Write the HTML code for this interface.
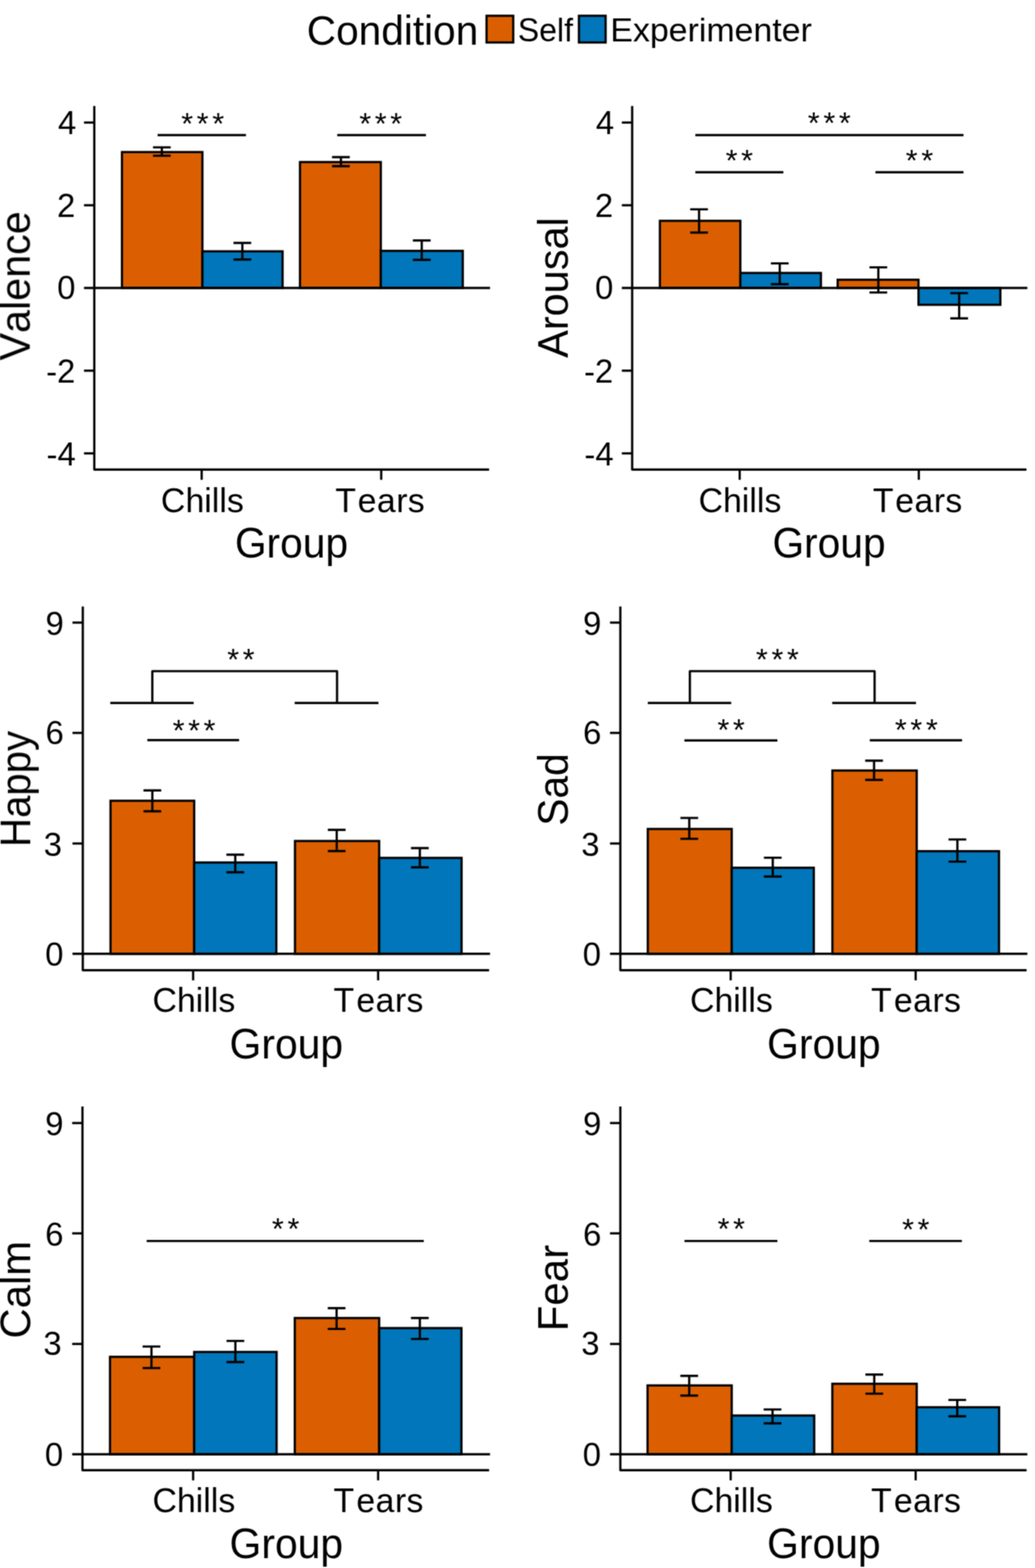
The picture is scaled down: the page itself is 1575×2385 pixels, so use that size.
<!DOCTYPE html>
<html lang="en">
<head>
<meta charset="utf-8">
<title>Emotion ratings by group and condition</title>
<style>
html,body{margin:0;padding:0;background:#fff;}
body{width:1575px;height:2385px;overflow:hidden;}
svg{display:block;}
svg text{font-family:"Liberation Sans", sans-serif;fill:#000;font-kerning:none;white-space:pre;}
svg line,svg path{stroke:#000;stroke-width:3.4;fill:none;stroke-linejoin:round;}
svg rect{stroke:#000;stroke-width:3.4;}
</style>
</head>
<body>
<svg width="1575" height="2385" viewBox="0 0 1575 2385">
<defs>
<filter id="soften" x="0" y="0" width="1575" height="2385" filterUnits="userSpaceOnUse" color-interpolation-filters="sRGB">
<feConvolveMatrix order="3" kernelMatrix="1 2 1 2 4 2 1 2 1" divisor="16" edgeMode="duplicate" preserveAlpha="true"/>
</filter>
</defs>
<g filter="url(#soften)">
<rect x="0" y="0" width="1575" height="2385" style="fill:#fff;stroke:none"/>
<text x="466.86" y="67.8" font-size="62.5" textLength="260.9" lengthAdjust="spacingAndGlyphs">Condition</text>
<rect x="740.4" y="24" width="40.6" height="40.6" fill="#DB5F00"/>
<text x="788.09" y="63.2" font-size="50.25" textLength="83.84" lengthAdjust="spacingAndGlyphs">Self</text>
<rect x="881" y="24" width="40.6" height="40.6" fill="#0176BA"/>
<text x="928.77" y="63.2" font-size="50.25" textLength="306.58" lengthAdjust="spacingAndGlyphs">Experimenter</text>
<g id="panel-valence">
<g class="bars">
<rect x="185.6" y="231.3" width="122.4" height="206.7" fill="#DB5F00"/>
<rect x="308" y="382.3" width="122" height="55.7" fill="#0176BA"/>
<rect x="456.5" y="246.5" width="123" height="191.5" fill="#DB5F00"/>
<rect x="579.5" y="381.6" width="124.7" height="56.4" fill="#0176BA"/>
</g>
<g class="ln">
<line x1="127.8" y1="438" x2="745.7" y2="438"/>
<path d="M232.8 224.1H259.8M232.8 236.9H259.8M246.3 224.1V236.9"/>
<path d="M355.3 369.5H382.3M355.3 394.8H382.3M368.8 369.5V394.8"/>
<path d="M505.3 239H532.3M505.3 252.7H532.3M518.8 239V252.7"/>
<path d="M628.3 365.8H655.3M628.3 395.3H655.3M641.8 365.8V395.3"/>
<path d="M143.5 161.3V714.3H744.3"/>
<line x1="127.8" y1="186.4" x2="143.5" y2="186.4"/>
<line x1="127.8" y1="312.2" x2="143.5" y2="312.2"/>
<line x1="127.8" y1="563.8" x2="143.5" y2="563.8"/>
<line x1="127.8" y1="689.6" x2="143.5" y2="689.6"/>
<line x1="306.9" y1="714.3" x2="306.9" y2="729.8"/>
<line x1="580.1" y1="714.3" x2="580.1" y2="729.8"/>
<line x1="239.8" y1="205.5" x2="374.3" y2="205.5"/>
<line x1="513.2" y1="205.5" x2="648.2" y2="205.5"/>
</g>
<g class="tx">
<text x="88.19" y="204.4" font-size="50.5" textLength="27.81" lengthAdjust="spacingAndGlyphs">4</text>
<text x="86.79" y="330.2" font-size="50.5" textLength="27.81" lengthAdjust="spacingAndGlyphs">2</text>
<text x="86.99" y="455.2" font-size="50.5" textLength="27.81" lengthAdjust="spacingAndGlyphs">0</text>
<text x="70.14" y="581.8" font-size="50.5" textLength="44.46" lengthAdjust="spacingAndGlyphs">-2</text>
<text x="70.74" y="707.6" font-size="50.5" textLength="44.46" lengthAdjust="spacingAndGlyphs">-4</text>
<text x="244.88" y="779.4" font-size="51.5" textLength="126.24" lengthAdjust="spacingAndGlyphs">Chills</text>
<text x="510.34 544.26 573.6 602.95 620.52" y="779.4" font-size="51.5">Tears</text>
<text x="357.38" y="848" font-size="64.38" textLength="172.22" lengthAdjust="spacingAndGlyphs">Group</text>
<text transform="translate(45.3 548.28) rotate(-90)" font-size="64.38" textLength="226.87" lengthAdjust="spacingAndGlyphs">Valence</text>
<text x="275.75" y="203.7" font-size="46.5" letter-spacing="5.5">***</text>
<text x="546.65" y="203.7" font-size="46.5" letter-spacing="5.5">***</text>
</g>
</g>
<g id="panel-arousal">
<g class="bars">
<rect x="1004.2" y="335.9" width="122.4" height="102.1" fill="#DB5F00"/>
<rect x="1126.6" y="415.2" width="122.6" height="22.8" fill="#0176BA"/>
<rect x="1274.7" y="425.5" width="123" height="12.5" fill="#DB5F00"/>
<rect x="1397.7" y="438" width="124.6" height="25.6" fill="#0176BA"/>
</g>
<g class="ln">
<line x1="946.3" y1="438" x2="1563.4" y2="438"/>
<path d="M1050.3 318.4H1077.3M1050.3 353.7H1077.3M1063.8 318.4V353.7"/>
<path d="M1173.1 400.6H1200.1M1173.1 432.3H1200.1M1186.6 400.6V432.3"/>
<path d="M1323.1 406.6H1350.1M1323.1 444.9H1350.1M1336.6 406.6V444.9"/>
<path d="M1446.1 445.9H1473.1M1446.1 484.2H1473.1M1459.6 445.9V484.2"/>
<path d="M962 161.3V714.3H1562"/>
<line x1="946.3" y1="186.4" x2="962" y2="186.4"/>
<line x1="946.3" y1="312.2" x2="962" y2="312.2"/>
<line x1="946.3" y1="563.8" x2="962" y2="563.8"/>
<line x1="946.3" y1="689.6" x2="962" y2="689.6"/>
<line x1="1125.6" y1="714.3" x2="1125.6" y2="729.8"/>
<line x1="1398.2" y1="714.3" x2="1398.2" y2="729.8"/>
<line x1="1058.1" y1="205.5" x2="1466.2" y2="205.5"/>
<line x1="1058.1" y1="262" x2="1192.1" y2="262"/>
<line x1="1332.2" y1="262" x2="1466.2" y2="262"/>
</g>
<g class="tx">
<text x="906.69" y="204.4" font-size="50.5" textLength="27.81" lengthAdjust="spacingAndGlyphs">4</text>
<text x="905.29" y="330.2" font-size="50.5" textLength="27.81" lengthAdjust="spacingAndGlyphs">2</text>
<text x="905.49" y="455.2" font-size="50.5" textLength="27.81" lengthAdjust="spacingAndGlyphs">0</text>
<text x="888.64" y="581.8" font-size="50.5" textLength="44.46" lengthAdjust="spacingAndGlyphs">-2</text>
<text x="889.24" y="707.6" font-size="50.5" textLength="44.46" lengthAdjust="spacingAndGlyphs">-4</text>
<text x="1062.88" y="779.4" font-size="51.5" textLength="126.24" lengthAdjust="spacingAndGlyphs">Chills</text>
<text x="1328.34 1362.26 1391.6 1420.95 1438.52" y="779.4" font-size="51.5">Tears</text>
<text x="1175.38" y="848" font-size="64.38" textLength="172.22" lengthAdjust="spacingAndGlyphs">Group</text>
<text transform="translate(864 544.32) rotate(-90)" font-size="64.38" textLength="213.84" lengthAdjust="spacingAndGlyphs">Arousal</text>
<text x="1229.35" y="203.1" font-size="46.5" letter-spacing="5.5">***</text>
<text x="1104.15" y="259.6" font-size="46.5" letter-spacing="5.5">**</text>
<text x="1378.35" y="259.6" font-size="46.5" letter-spacing="5.5">**</text>
</g>
</g>
<g id="panel-happy">
<g class="bars">
<rect x="168.2" y="1218" width="127.3" height="232.8" fill="#DB5F00"/>
<rect x="295.5" y="1311.9" width="125" height="138.9" fill="#0176BA"/>
<rect x="448.9" y="1279.2" width="128.1" height="171.6" fill="#DB5F00"/>
<rect x="577" y="1304.9" width="125.4" height="145.9" fill="#0176BA"/>
</g>
<g class="ln">
<line x1="110.3" y1="1450.8" x2="745.7" y2="1450.8"/>
<path d="M218.35 1202.3H245.35M218.35 1234H245.35M231.85 1202.3V1234"/>
<path d="M344.5 1300H371.5M344.5 1326.7H371.5M358 1300V1326.7"/>
<path d="M498.9 1262.3H525.9M498.9 1294.5H525.9M512.4 1262.3V1294.5"/>
<path d="M625.4 1290H652.4M625.4 1319.2H652.4M638.9 1290V1319.2"/>
<path d="M126 922.5V1475.7H744.3"/>
<line x1="110.3" y1="947" x2="126" y2="947"/>
<line x1="110.3" y1="1114.8" x2="126" y2="1114.8"/>
<line x1="110.3" y1="1283" x2="126" y2="1283"/>
<line x1="293.9" y1="1475.7" x2="293.9" y2="1491.2"/>
<line x1="575.4" y1="1475.7" x2="575.4" y2="1491.2"/>
<line x1="167.8" y1="1069.3" x2="294.7" y2="1069.3"/>
<line x1="448.4" y1="1069.3" x2="575.9" y2="1069.3"/>
<path d="M231.8 1069.3V1020.9H512.9V1069.3"/>
<line x1="224.2" y1="1125.7" x2="363.8" y2="1125.7"/>
</g>
<g class="tx">
<text x="69.19" y="965.8" font-size="50.5" textLength="27.81" lengthAdjust="spacingAndGlyphs">9</text>
<text x="69.19" y="1132.2" font-size="50.5" textLength="27.81" lengthAdjust="spacingAndGlyphs">6</text>
<text x="66.39" y="1302" font-size="50.5" textLength="27.81" lengthAdjust="spacingAndGlyphs">3</text>
<text x="68.69" y="1469" font-size="50.5" textLength="27.81" lengthAdjust="spacingAndGlyphs">0</text>
<text x="231.88" y="1539" font-size="51.5" textLength="126.24" lengthAdjust="spacingAndGlyphs">Chills</text>
<text x="507.59 542.26 571.6 600.95 618.52" y="1539" font-size="51.5">Tears</text>
<text x="349.37" y="1609.75" font-size="64.38" textLength="172.74" lengthAdjust="spacingAndGlyphs">Group</text>
<text transform="translate(46 1288.31) rotate(-90)" font-size="64.38" textLength="176.63" lengthAdjust="spacingAndGlyphs">Happy</text>
<text x="345.65" y="1018.5" font-size="46.5" letter-spacing="5.5">**</text>
<text x="262.65" y="1127" font-size="46.5" letter-spacing="5.5">***</text>
</g>
</g>
<g id="panel-sad">
<g class="bars">
<rect x="985.8" y="1260.9" width="127.7" height="189.9" fill="#DB5F00"/>
<rect x="1113.5" y="1319.9" width="124.9" height="130.9" fill="#0176BA"/>
<rect x="1266.7" y="1172" width="128.3" height="278.8" fill="#DB5F00"/>
<rect x="1395" y="1294.7" width="125.2" height="156.1" fill="#0176BA"/>
</g>
<g class="ln">
<line x1="928.3" y1="1450.8" x2="1563.4" y2="1450.8"/>
<path d="M1035.4 1244.1H1062.4M1035.4 1275.9H1062.4M1048.9 1244.1V1275.9"/>
<path d="M1162.45 1304.6H1189.45M1162.45 1333.3H1189.45M1175.95 1304.6V1333.3"/>
<path d="M1316.6 1157H1343.6M1316.6 1186.2H1343.6M1330.1 1157V1186.2"/>
<path d="M1443.4 1276.9H1470.4M1443.4 1310.6H1470.4M1456.9 1276.9V1310.6"/>
<path d="M944 922.5V1475.7H1562.2"/>
<line x1="928.3" y1="947" x2="944" y2="947"/>
<line x1="928.3" y1="1114.8" x2="944" y2="1114.8"/>
<line x1="928.3" y1="1283" x2="944" y2="1283"/>
<line x1="1111.9" y1="1475.7" x2="1111.9" y2="1491.2"/>
<line x1="1393.4" y1="1475.7" x2="1393.4" y2="1491.2"/>
<line x1="985.8" y1="1069.3" x2="1112.7" y2="1069.3"/>
<line x1="1266.4" y1="1069.3" x2="1393.9" y2="1069.3"/>
<path d="M1049.8 1069.3V1020.9H1330.9V1069.3"/>
<line x1="1041.5" y1="1126.2" x2="1183" y2="1126.2"/>
<line x1="1323.6" y1="1126" x2="1464" y2="1126"/>
</g>
<g class="tx">
<text x="887.19" y="965.8" font-size="50.5" textLength="27.81" lengthAdjust="spacingAndGlyphs">9</text>
<text x="887.19" y="1132.2" font-size="50.5" textLength="27.81" lengthAdjust="spacingAndGlyphs">6</text>
<text x="884.39" y="1302" font-size="50.5" textLength="27.81" lengthAdjust="spacingAndGlyphs">3</text>
<text x="886.69" y="1469" font-size="50.5" textLength="27.81" lengthAdjust="spacingAndGlyphs">0</text>
<text x="1049.88" y="1539" font-size="51.5" textLength="126.24" lengthAdjust="spacingAndGlyphs">Chills</text>
<text x="1325.59 1360.26 1389.6 1418.95 1436.52" y="1539" font-size="51.5">Tears</text>
<text x="1167.37" y="1609.75" font-size="64.38" textLength="172.74" lengthAdjust="spacingAndGlyphs">Group</text>
<text transform="translate(864 1256.12) rotate(-90)" font-size="64.38" textLength="110.52" lengthAdjust="spacingAndGlyphs">Sad</text>
<text x="1150.35" y="1018.5" font-size="46.5" letter-spacing="5.5">***</text>
<text x="1091.65" y="1126.4" font-size="46.5" letter-spacing="5.5">**</text>
<text x="1361.75" y="1126.4" font-size="46.5" letter-spacing="5.5">***</text>
</g>
</g>
<g id="panel-calm">
<g class="bars">
<rect x="167.4" y="2063.8" width="128.1" height="148.2" fill="#DB5F00"/>
<rect x="295.5" y="2056.4" width="125.4" height="155.6" fill="#0176BA"/>
<rect x="448.6" y="2004.8" width="128.4" height="207.2" fill="#DB5F00"/>
<rect x="577" y="2020.1" width="125.2" height="191.9" fill="#0176BA"/>
</g>
<g class="ln">
<line x1="109.8" y1="2212" x2="745.7" y2="2212"/>
<path d="M217 2048.1H244M217 2080.9H244M230.5 2048.1V2080.9"/>
<path d="M344.7 2039.6H371.7M344.7 2071.8H371.7M358.2 2039.6V2071.8"/>
<path d="M498.7 1989.7H525.7M498.7 2021.4H525.7M512.2 1989.7V2021.4"/>
<path d="M625.4 2004.8H652.4M625.4 2036.6H652.4M638.9 2004.8V2036.6"/>
<path d="M125.5 1683V2236.2H744.3"/>
<line x1="109.8" y1="1708.2" x2="125.5" y2="1708.2"/>
<line x1="109.8" y1="1876" x2="125.5" y2="1876"/>
<line x1="109.8" y1="2044.2" x2="125.5" y2="2044.2"/>
<line x1="293.9" y1="2236.2" x2="293.9" y2="2251.7"/>
<line x1="575.4" y1="2236.2" x2="575.4" y2="2251.7"/>
<line x1="223.2" y1="1887.6" x2="644.9" y2="1887.6"/>
</g>
<g class="tx">
<text x="68.69" y="1727" font-size="50.5" textLength="27.81" lengthAdjust="spacingAndGlyphs">9</text>
<text x="68.69" y="1894.6" font-size="50.5" textLength="27.81" lengthAdjust="spacingAndGlyphs">6</text>
<text x="65.89" y="2060.8" font-size="50.5" textLength="27.81" lengthAdjust="spacingAndGlyphs">3</text>
<text x="68.19" y="2229.5" font-size="50.5" textLength="27.81" lengthAdjust="spacingAndGlyphs">0</text>
<text x="231.88" y="2299.5" font-size="51.5" textLength="126.24" lengthAdjust="spacingAndGlyphs">Chills</text>
<text x="507.59 542.26 571.6 600.95 618.52" y="2299.5" font-size="51.5">Tears</text>
<text x="349.37" y="2370.25" font-size="64.38" textLength="172.74" lengthAdjust="spacingAndGlyphs">Group</text>
<text transform="translate(45.9 2036.03) rotate(-90)" font-size="64.38" textLength="148.63" lengthAdjust="spacingAndGlyphs">Calm</text>
<text x="413.85" y="1885.4" font-size="46.5" letter-spacing="5.5">**</text>
</g>
</g>
<g id="panel-fear">
<g class="bars">
<rect x="985.4" y="2107.3" width="128.1" height="104.7" fill="#DB5F00"/>
<rect x="1113.5" y="2153.1" width="125.5" height="58.9" fill="#0176BA"/>
<rect x="1266.6" y="2104.8" width="128.4" height="107.2" fill="#DB5F00"/>
<rect x="1395" y="2140.5" width="125.4" height="71.5" fill="#0176BA"/>
</g>
<g class="ln">
<line x1="928.3" y1="2212" x2="1563.4" y2="2212"/>
<path d="M1035.3 2092.7H1062.3M1035.3 2122.7H1062.3M1048.8 2092.7V2122.7"/>
<path d="M1162.1 2143.9H1189.1M1162.1 2165H1189.1M1175.6 2143.9V2165"/>
<path d="M1316.9 2090.7H1343.9M1316.9 2119.9H1343.9M1330.4 2090.7V2119.9"/>
<path d="M1443.2 2129.4H1470.2M1443.2 2154.3H1470.2M1456.7 2129.4V2154.3"/>
<path d="M944 1683V2236.2H1562.2"/>
<line x1="928.3" y1="1708.2" x2="944" y2="1708.2"/>
<line x1="928.3" y1="1876" x2="944" y2="1876"/>
<line x1="928.3" y1="2044.2" x2="944" y2="2044.2"/>
<line x1="1111.9" y1="2236.2" x2="1111.9" y2="2251.7"/>
<line x1="1393.4" y1="2236.2" x2="1393.4" y2="2251.7"/>
<line x1="1041.6" y1="1887.6" x2="1183" y2="1887.6"/>
<line x1="1322.8" y1="1887.6" x2="1463.7" y2="1887.6"/>
</g>
<g class="tx">
<text x="887.19" y="1727" font-size="50.5" textLength="27.81" lengthAdjust="spacingAndGlyphs">9</text>
<text x="887.19" y="1894.6" font-size="50.5" textLength="27.81" lengthAdjust="spacingAndGlyphs">6</text>
<text x="884.39" y="2060.8" font-size="50.5" textLength="27.81" lengthAdjust="spacingAndGlyphs">3</text>
<text x="886.69" y="2229.5" font-size="50.5" textLength="27.81" lengthAdjust="spacingAndGlyphs">0</text>
<text x="1049.88" y="2299.5" font-size="51.5" textLength="126.24" lengthAdjust="spacingAndGlyphs">Chills</text>
<text x="1325.59 1360.26 1389.6 1418.95 1436.52" y="2299.5" font-size="51.5">Tears</text>
<text x="1167.37" y="2370.25" font-size="64.38" textLength="172.74" lengthAdjust="spacingAndGlyphs">Group</text>
<text transform="translate(864 2025.05) rotate(-90)" font-size="64.38" textLength="131.51" lengthAdjust="spacingAndGlyphs">Fear</text>
<text x="1091.95" y="1885.4" font-size="46.5" letter-spacing="5.5">**</text>
<text x="1372.75" y="1885.5" font-size="46.5" letter-spacing="5.5">**</text>
</g>
</g>
</g>
</svg>
</body>
</html>
